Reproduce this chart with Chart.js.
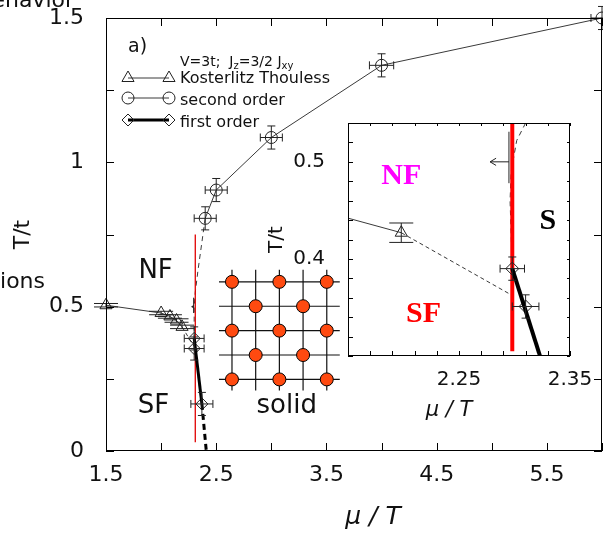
<!DOCTYPE html>
<html>
<head>
<meta charset="utf-8">
<title>phase diagram</title>
<script src="https://cdn.jsdelivr.net/npm/chart.js@4.4.1/dist/chart.umd.min.js"></script>
<style>
  html, body { margin: 0; padding: 0; background: #fff; }
  #wrap { position: relative; width: 603px; height: 533px; overflow: hidden; }
  #wrap canvas { position: absolute; left: 0; top: 0; }
</style>
</head>
<body>
<div id="wrap">
  <canvas id="mainChart" width="603" height="533"></canvas>
  <canvas id="insetChart" width="603" height="533"></canvas>
</div>
<script>
// ---- main panel: T/t against mu/T ----
const ktMu = [1.5, 2.0, 2.08, 2.14, 2.19];
const ktT = [0.505, 0.478, 0.466, 0.452, 0.43];
const ktErrT = [0.006, 0.006, 0.006, 0.006, 0.006];
const ktTailMu = [2.19, 2.297];
const ktTailT = [0.43, 0.363];

const secondMu = [2.4, 2.5, 3.0, 4.0, 6.0];
const secondT = [0.806, 0.904, 1.086, 1.336, 1.5];
const secondErrMu = [0.1, 0.1, 0.1, 0.11, 0.1];
const secondErrT = [0.04, 0.04, 0.04, 0.04, 0.04];
const secondTailMu = [2.4, 2.335, 2.31, 2.3, 2.3];
const secondTailT = [0.806, 0.627, 0.55, 0.5, 0.39];

const firstMu = [2.3, 2.3, 2.37];
const firstT = [0.39, 0.355, 0.163];
const firstErrMu = [0.09, 0.09, 0.1];
const firstErrT = [0.04, 0.04, 0.04];
const firstLineMu = [2.3, 2.37];
const firstLineT = [0.39, 0.163];
const firstExtMu = [2.37, 2.41];
const firstExtT = [0.163, 0];

const redMu = [2.31, 2.31];
const redT = [0.03, 0.75];

// point known only as an upper bound in mu (arrow)
const boundMu = 2.295;
const boundT = 0.5;
const boundTRange = [0.478, 0.531];
const boundTip = 2.278;

const xTickVals = [1.5, 2.5, 3.5, 4.5, 5.5];
const yTickVals = [0, 0.5, 1, 1.5];

// solid pictogram: 1 = occupied site of the 5x5 square lattice
const latticeOcc = [
  [1, 0, 1, 0, 1],
  [0, 1, 0, 1, 0],
  [1, 0, 1, 0, 1],
  [0, 1, 0, 1, 0],
  [1, 0, 1, 0, 1]
];

// ---- inset: zoom near the tricritical region ----
const inKtMu = [2.15, 2.198];
const inKtT = [0.442, 0.427];
const inKtErrT = [0, 0.01];
const inKtTailMu = [2.198, 2.297];
const inKtTailT = [0.427, 0.363];

const inFirstMu = [2.298, 2.31];
const inFirstT = [0.39, 0.351];
const inFirstErrMu = [0.011, 0.012];
const inFirstErrT = [0.012, 0.012];
const inThickMu = [2.298, 2.323];
const inThickT = [0.39, 0.3];

const inRedMu = [2.298, 2.298];
const inRedT = [0.305, 0.54];

const inDashMu = [2.31, 2.302, 2.297, 2.296, 2.298];
const inDashT = [0.54, 0.522, 0.49, 0.46, 0.39];

const insetXTickVals = [2.25, 2.35];
const insetYTickVals = [0.4, 0.5];

const FONT = '"DejaVu Sans", sans-serif';
const SERIF = '"Liberation Serif", "DejaVu Serif", serif';
const INK = '#111';
const LINE = '#3a3a3a';

function pts(xs, ys) {
    return xs.map((x, i) => ({ x: x, y: ys[i] }));
}

function seg(ctx, x0, y0, x1, y1) {
    ctx.beginPath();
    ctx.moveTo(x0, y0);
    ctx.lineTo(x1, y1);
    ctx.stroke();
}

function text(ctx, str, x, y, font, color, align) {
    ctx.font = font;
    ctx.fillStyle = color || INK;
    ctx.textAlign = align || 'left';
    ctx.textBaseline = 'alphabetic';
    ctx.fillText(str, x, y);
}

function drawMarker(ctx, style, x, y, r) {
    ctx.beginPath();
    if (style === 'triangle') {
        ctx.moveTo(x, y - r);
        ctx.lineTo(x + r * 0.866, y + r * 0.5);
        ctx.lineTo(x - r * 0.866, y + r * 0.5);
        ctx.closePath();
    } else if (style === 'rectRot') {
        ctx.moveTo(x, y - r);
        ctx.lineTo(x + r, y);
        ctx.lineTo(x, y + r);
        ctx.lineTo(x - r, y);
        ctx.closePath();
    } else {
        ctx.arc(x, y, r, 0, Math.PI * 2);
    }
    ctx.stroke();
}

// keep the plot area exactly where the layout padding puts it
function noScalePadding(s) {
    s.paddingLeft = 0;
    s.paddingRight = 0;
    s.paddingTop = 0;
    s.paddingBottom = 0;
}

// error bars stored on the datasets (errX / errY), drawn through the scales
const errorBars = {
    id: 'errorBars',
    afterDatasetsDraw(chart) {
        const ctx = chart.ctx;
        const sx = chart.scales.x, sy = chart.scales.y;
        ctx.save();
        ctx.strokeStyle = '#222';
        ctx.lineWidth = 1;
        chart.data.datasets.forEach(ds => {
            if (!ds.errX && !ds.errY) return;
            const cap = ds.errCap || 4;
            ds.data.forEach((p, i) => {
                const x = sx.getPixelForValue(p.x);
                const y = sy.getPixelForValue(p.y);
                if (ds.errX && ds.errX[i]) {
                    const x0 = sx.getPixelForValue(p.x - ds.errX[i]);
                    const x1 = sx.getPixelForValue(p.x + ds.errX[i]);
                    seg(ctx, x0, y, x1, y);
                    seg(ctx, x0, y - cap, x0, y + cap);
                    seg(ctx, x1, y - cap, x1, y + cap);
                }
                if (ds.errY && ds.errY[i]) {
                    const capW = ds.errCapW || cap;
                    const y0 = sy.getPixelForValue(p.y - ds.errY[i]);
                    const y1 = sy.getPixelForValue(p.y + ds.errY[i]);
                    seg(ctx, x, y0, x, y1);
                    seg(ctx, x - capW, y0, x + capW, y0);
                    seg(ctx, x - capW, y1, x + capW, y1);
                }
            });
        });
        ctx.restore();
    }
};

// box round the plot area with inward ticks on all four sides
const frame = {
    id: 'frame',
    afterDraw(chart, args, opts) {
        const { ctx, chartArea: a } = chart;
        const sx = chart.scales.x, sy = chart.scales.y;
        ctx.save();
        ctx.strokeStyle = '#000';
        ctx.lineWidth = 1;
        ctx.strokeRect(a.left + 0.5, a.top + 0.5, a.width - 1, a.height - 1);
        const nx = Math.round((sx.max - sx.min) / opts.xStep);
        for (let i = 0; i <= nx; i++) {
            const p = Math.round(sx.getPixelForValue(sx.min + i * opts.xStep)) + 0.5;
            seg(ctx, p, a.bottom, p, a.bottom - opts.len);
            seg(ctx, p, a.top, p, a.top + opts.topLen);
        }
        const ny = Math.round((sy.max - sy.min) / opts.yStep);
        for (let i = 0; i <= ny; i++) {
            const p = Math.round(sy.getPixelForValue(sy.min + i * opts.yStep)) + 0.5;
            seg(ctx, a.left, p, a.left + opts.len, p);
            seg(ctx, a.right, p, a.right - opts.topLen, p);
        }
        ctx.restore();
    }
};

// the one-sided bound: vertical bar plus an arrow pointing to lower mu
function drawBound(chart, headLen) {
    const ctx = chart.ctx;
    const sx = chart.scales.x, sy = chart.scales.y;
    const x = sx.getPixelForValue(boundMu);
    const y = sy.getPixelForValue(boundT);
    const xt = sx.getPixelForValue(boundTip);
    ctx.save();
    ctx.strokeStyle = '#222';
    ctx.lineWidth = 1;
    seg(ctx, x, sy.getPixelForValue(boundTRange[0]), x, sy.getPixelForValue(boundTRange[1]));
    seg(ctx, x, y, xt, y);
    seg(ctx, xt, y, xt + headLen, y - headLen * 0.6);
    seg(ctx, xt, y, xt + headLen, y + headLen * 0.6);
    ctx.restore();
}

// lattice placement inside the main panel (data units)
const LAT_MU0 = 2.643, LAT_DMU = 0.215, LAT_T0 = 0.586, LAT_DT = 0.0845;
const latticeSites = [];
latticeOcc.forEach((row, r) => row.forEach((occ, c) => {
    if (occ) latticeSites.push({ x: LAT_MU0 + c * LAT_DMU, y: LAT_T0 - r * LAT_DT });
}));

const mainDecor = {
    id: 'mainDecor',
    beforeDatasetsDraw(chart) {
        const ctx = chart.ctx;
        const sx = chart.scales.x, sy = chart.scales.y;
        const n = latticeOcc.length - 1;
        const xa = sx.getPixelForValue(LAT_MU0), xb = sx.getPixelForValue(LAT_MU0 + n * LAT_DMU);
        const ya = sy.getPixelForValue(LAT_T0), yb = sy.getPixelForValue(LAT_T0 - n * LAT_DT);
        ctx.save();
        ctx.strokeStyle = '#111';
        ctx.lineWidth = 1.2;
        for (let i = 0; i <= n; i++) {
            const y = sy.getPixelForValue(LAT_T0 - i * LAT_DT);
            seg(ctx, xa - 13, y, xb + 13, y);
            const x = sx.getPixelForValue(LAT_MU0 + i * LAT_DMU);
            seg(ctx, x, ya - 12, x, yb + 11);
        }
        ctx.restore();
    },
    afterDraw(chart) {
        const ctx = chart.ctx;
        const sx = chart.scales.x, sy = chart.scales.y;
        drawBound(chart, 2);

        ctx.save();
        // phase labels
        text(ctx, 'NF', sx.getPixelForValue(1.95), sy.getPixelForValue(0.6), '26px ' + FONT, INK, 'center');
        text(ctx, 'SF', sx.getPixelForValue(1.93), sy.getPixelForValue(0.13), '26px ' + FONT, INK, 'center');
        text(ctx, 'solid', sx.getPixelForValue(3.14), sy.getPixelForValue(0.13), '26px ' + FONT, INK, 'center');

        // panel tag and parameters
        text(ctx, 'a)', 128, 52, '19px ' + FONT);
        let x = 180;
        const big = '14px ' + FONT, small = '10px ' + FONT;
        [['V=3t;  J', big, 0], ['z', small, 3], ['=3/2 J', big, 0], ['xy', small, 3]].forEach(([s, f, dy]) => {
            text(ctx, s, x, 66 + dy, f);
            x += ctx.measureText(s).width;
        });

        // legend
        const items = [
            { label: 'Kosterlitz Thouless', marker: 'triangle', r: 7, width: 1, y: 78, base: 83 },
            { label: 'second order', marker: 'circle', r: 6, width: 1, y: 98, base: 105 },
            { label: 'first order', marker: 'rectRot', r: 6, width: 3, y: 120, base: 127 }
        ];
        items.forEach(it => {
            ctx.strokeStyle = it.width > 1 ? '#000' : LINE;
            ctx.lineWidth = it.width;
            seg(ctx, 128, it.y, 169, it.y);
            ctx.strokeStyle = '#222';
            ctx.lineWidth = 1;
            drawMarker(ctx, it.marker, 128, it.y, it.r);
            drawMarker(ctx, it.marker, 169, it.y, it.r);
            text(ctx, it.label, 180, it.base, '16px ' + FONT);
        });

        // axis title and stray caption fragments around the figure
        text(ctx, 'μ / T', 373, 524, 'italic 25px ' + FONT, INK, 'center');
        text(ctx, 'Behavior', 74, 7, '22px ' + FONT, INK, 'right');
        text(ctx, 'Transitions', 45, 288, '22px ' + FONT, INK, 'right');
        ctx.restore();
    }
};

const tickFont = { family: '"DejaVu Sans", sans-serif', size: 22 };

new Chart(document.getElementById('mainChart'), {
    type: 'scatter',
    data: {
        datasets: [
            {
                data: pts(firstLineMu, firstLineT), showLine: true,
                borderColor: '#000', borderWidth: 3, pointRadius: 0
            },
            {
                data: pts(firstExtMu, firstExtT), showLine: true,
                borderColor: '#000', borderWidth: 3, borderDash: [6, 4], pointRadius: 0
            },
            {
                data: pts(firstMu, firstT), showLine: false,
                pointStyle: 'rectRot', pointRadius: 6, pointBorderColor: '#222',
                pointBackgroundColor: 'rgba(0,0,0,0)', pointBorderWidth: 1,
                errX: firstErrMu, errY: firstErrT, errCap: 4
            },
            {
                data: pts(redMu, redT), showLine: true,
                borderColor: '#e00000', borderWidth: 1.3, pointRadius: 0
            },
            {
                data: pts(secondMu, secondT), showLine: true,
                borderColor: LINE, borderWidth: 1,
                pointStyle: 'circle', pointRadius: 6, pointBorderColor: '#222',
                pointBackgroundColor: 'rgba(0,0,0,0)', pointBorderWidth: 1,
                errX: secondErrMu, errY: secondErrT, errCap: 4
            },
            {
                data: pts(secondTailMu, secondTailT), showLine: true,
                borderColor: LINE, borderWidth: 1, borderDash: [5, 4], pointRadius: 0
            },
            {
                data: pts(ktMu, ktT), showLine: true,
                borderColor: LINE, borderWidth: 1,
                pointStyle: 'triangle', pointRadius: 7, pointBorderColor: '#222',
                pointBackgroundColor: 'rgba(0,0,0,0)', pointBorderWidth: 1,
                errY: ktErrT, errCapW: 12
            },
            {
                data: pts(ktTailMu, ktTailT), showLine: true,
                borderColor: LINE, borderWidth: 1, borderDash: [4, 3], pointRadius: 0
            },
            {
                data: latticeSites, showLine: false,
                pointStyle: 'circle', pointRadius: 6.5, pointBorderColor: '#000',
                pointBorderWidth: 1, pointBackgroundColor: '#ff4a10'
            }
        ]
    },
    options: {
        responsive: false,
        animation: false,
        devicePixelRatio: 1,
        clip: false,
        layout: { autoPadding: false, padding: { left: 0, right: 1, top: 18, bottom: 0 } },
        plugins: {
            legend: { display: false },
            tooltip: { enabled: false },
            frame: { xStep: 0.5, yStep: 0.25, len: 8, topLen: 8 }
        },
        scales: {
            x: {
                type: 'linear', position: 'bottom', min: 1.5, max: 6,
                grid: { display: false }, border: { display: false },
                afterBuildTicks: s => { s.ticks = xTickVals.map(v => ({ value: v })); },
                afterFit: s => { s.height = 82; noScalePadding(s); },
                ticks: { autoSkip: false, maxRotation: 0, padding: 3, color: INK, font: tickFont, callback: v => String(v) }
            },
            y: {
                type: 'linear', position: 'left', min: 0, max: 1.5,
                grid: { display: false }, border: { display: false },
                afterBuildTicks: s => { s.ticks = yTickVals.map(v => ({ value: v })); },
                afterFit: s => { s.width = 106; noScalePadding(s); },
                ticks: { autoSkip: false, padding: 14, color: INK, font: tickFont, callback: v => String(v) },
                title: { display: true, text: 'T/t', color: INK, font: tickFont, padding: { top: 10, bottom: 0 } }
            }
        }
    },
    plugins: [mainDecor, errorBars, frame]
});

const insetDecor = {
    id: 'insetDecor',
    beforeDraw(chart) {
        const { ctx, chartArea: a } = chart;
        ctx.save();
        ctx.fillStyle = '#fff';
        ctx.fillRect(a.left, a.top, a.width, a.height);
        ctx.restore();
    },
    afterDraw(chart) {
        const ctx = chart.ctx;
        const sx = chart.scales.x, sy = chart.scales.y;
        drawBound(chart, 6);
        ctx.save();
        text(ctx, 'NF', sx.getPixelForValue(2.198), sy.getPixelForValue(0.477), 'bold 30px ' + SERIF, '#ff00ff', 'center');
        text(ctx, 'SF', sx.getPixelForValue(2.218), sy.getPixelForValue(0.335), 'bold 30px ' + SERIF, '#ff0000', 'center');
        text(ctx, 'S', sx.getPixelForValue(2.33), sy.getPixelForValue(0.431), 'bold 30px ' + SERIF, '#000', 'center');
        text(ctx, 'μ / T', 449, 416, 'italic 21px ' + FONT, INK, 'center');
        ctx.restore();
    }
};

const insetFont = { family: '"DejaVu Sans", sans-serif', size: 20 };

new Chart(document.getElementById('insetChart'), {
    type: 'scatter',
    data: {
        datasets: [
            {
                data: pts(inThickMu, inThickT), showLine: true,
                borderColor: '#000', borderWidth: 4, pointRadius: 0
            },
            {
                data: pts(inFirstMu, inFirstT), showLine: false,
                pointStyle: 'rectRot', pointRadius: 6.5, pointBorderColor: '#222',
                pointBackgroundColor: 'rgba(0,0,0,0)', pointBorderWidth: 1,
                errX: inFirstErrMu, errY: inFirstErrT, errCap: 4
            },
            {
                data: pts(inRedMu, inRedT), showLine: true,
                borderColor: '#ff0000', borderWidth: 4, pointRadius: 0
            },
            {
                data: pts(inDashMu, inDashT), showLine: true,
                borderColor: LINE, borderWidth: 1, borderDash: [5, 4], pointRadius: 0
            },
            {
                data: pts(inKtMu, inKtT), showLine: true,
                borderColor: LINE, borderWidth: 1,
                pointStyle: 'triangle', pointRadius: [0, 7], pointBorderColor: '#222',
                pointBackgroundColor: 'rgba(0,0,0,0)', pointBorderWidth: 1,
                errY: inKtErrT, errCapW: 12
            },
            {
                data: pts(inKtTailMu, inKtTailT), showLine: true,
                borderColor: LINE, borderWidth: 1, borderDash: [4, 3], pointRadius: 0
            }
        ]
    },
    options: {
        responsive: false,
        animation: false,
        devicePixelRatio: 1,
        layout: { autoPadding: false, padding: { left: 264, right: 33, top: 123, bottom: 127 } },
        plugins: {
            legend: { display: false },
            tooltip: { enabled: false },
            frame: { xStep: 0.02, yStep: 0.02, len: 5, topLen: 3 }
        },
        scales: {
            x: {
                type: 'linear', position: 'bottom', min: 2.15, max: 2.35,
                grid: { display: false }, border: { display: false },
                afterBuildTicks: s => { s.ticks = insetXTickVals.map(v => ({ value: v })); },
                afterFit: s => { s.height = 50; noScalePadding(s); },
                ticks: { autoSkip: false, maxRotation: 0, padding: 4, color: INK, font: insetFont, callback: v => String(v) }
            },
            y: {
                type: 'linear', position: 'left', min: 0.3, max: 0.54,
                grid: { display: false }, border: { display: false },
                afterBuildTicks: s => { s.ticks = insetYTickVals.map(v => ({ value: v })); },
                afterFit: s => { s.width = 84; noScalePadding(s); },
                ticks: { autoSkip: false, padding: 15, color: INK, font: insetFont, callback: v => String(v) },
                title: { display: true, text: 'T/t', color: INK, font: insetFont, padding: { top: 1, bottom: 0 } }
            }
        }
    },
    plugins: [insetDecor, errorBars, frame]
});
</script>
</body>
</html>
